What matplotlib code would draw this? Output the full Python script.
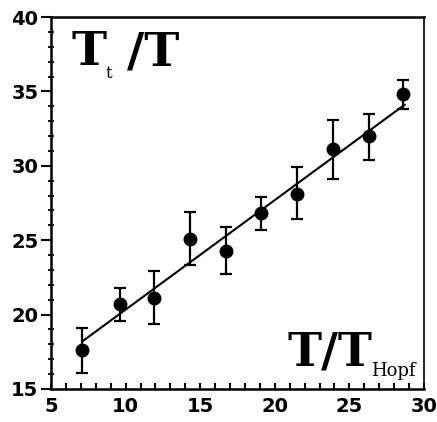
import numpy as np
import matplotlib.pyplot as plt
from matplotlib.ticker import MultipleLocator

# punkty pomiarowe
t_ratio = [7.1, 9.6, 11.9, 14.3, 16.7, 19.1, 21.5, 23.9, 26.3, 28.6]
tt_ratio = [17.6, 20.7, 21.1, 25.1, 24.3, 26.8, 28.1, 31.1, 32.0, 34.8]
err_low = [1.5, 1.1, 1.7, 1.8, 1.6, 1.1, 1.7, 2.0, 1.6, 1.0]
err_high = [1.5, 1.1, 1.8, 1.8, 1.6, 1.1, 1.8, 2.0, 1.5, 1.0]

# prosta dopasowania
fit_x = [7.1, 28.7]
fit_y = [18.2, 34.1]

fig = plt.figure(figsize=(4.37, 4.22), dpi=100)
ax = fig.add_axes([0.1167, 0.0782, 0.8535, 0.8815])

ax.plot(fit_x, fit_y, color='black', lw=1.5, zorder=2)
ax.errorbar(t_ratio, tt_ratio, yerr=[err_low, err_high], fmt='o', color='black',
            ms=9, elinewidth=1.6, capsize=4.3, capthick=1.6, zorder=3)

ax.set_xlim(5, 30)
ax.set_ylim(15, 40)
ax.xaxis.set_major_locator(MultipleLocator(5))
ax.xaxis.set_minor_locator(MultipleLocator(1))
ax.yaxis.set_major_locator(MultipleLocator(5))
ax.yaxis.set_minor_locator(MultipleLocator(1))

ax.tick_params(axis='x', which='both', direction='in', length=4, width=1.5,
               top=False, pad=6)
ax.tick_params(axis='y', which='major', direction='out', length=7, width=1.5,
               right=False, pad=2)
ax.tick_params(axis='y', which='minor', direction='inout', length=5, width=1.3,
               right=False)
for lab in ax.get_xticklabels() + ax.get_yticklabels():
    lab.set_fontweight('bold')
    lab.set_fontsize(14)
    lab.set_family('DejaVu Sans')

for side in ['left', 'top', 'bottom']:
    ax.spines[side].set_linewidth(1.8)
ax.spines['right'].set_linewidth(1.2)

ax.text(0.055, 0.967, r'T', transform=ax.transAxes, fontsize=34,
        fontweight='bold', family='DejaVu Serif', va='top')
ax.text(0.145, 0.837, 't', transform=ax.transAxes, fontsize=12,
        family='DejaVu Serif', va='baseline')
ax.text(0.205, 0.967, '/T', transform=ax.transAxes, fontsize=34,
        fontweight='bold', family='DejaVu Serif', va='top')

ax.text(0.635, 0.063, 'T/T', transform=ax.transAxes, fontsize=33,
        fontweight='bold', family='DejaVu Serif', va='baseline')
ax.text(0.857, 0.035, 'Hopf', transform=ax.transAxes, fontsize=13,
        family='DejaVu Serif', va='baseline')

fig.savefig('out.png', dpi=100)
